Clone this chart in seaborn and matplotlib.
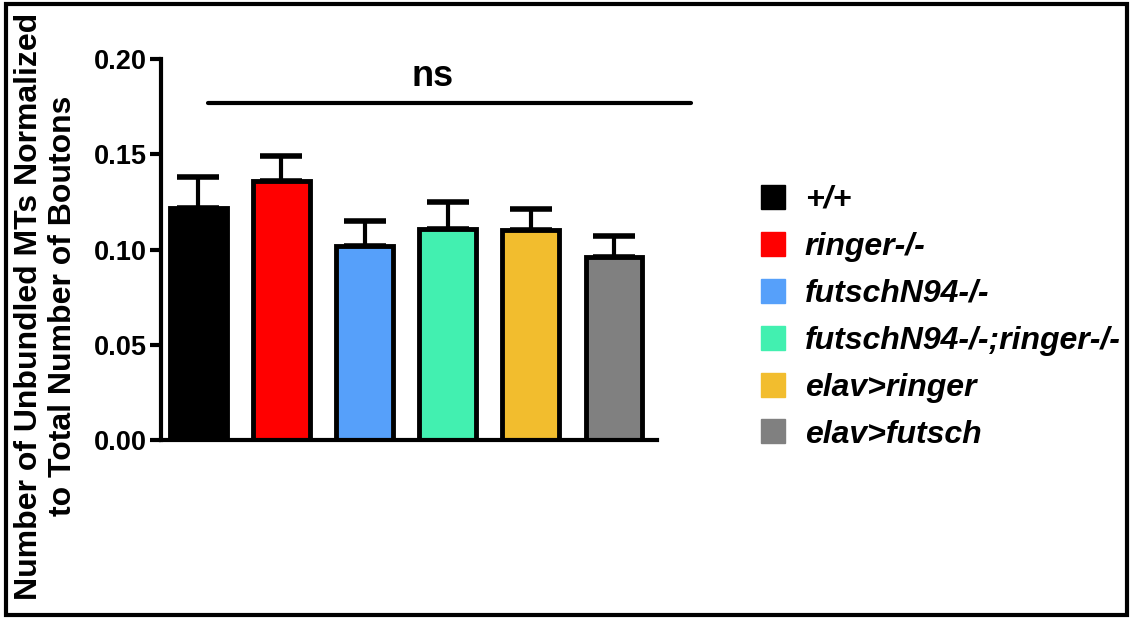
import matplotlib
matplotlib.use("Agg")
import matplotlib.pyplot as plt
import seaborn as sns
import pandas as pd
from matplotlib.lines import Line2D
from matplotlib.patches import Rectangle

genotypes = ["+/+", "ringer-/-", "futschN94-/-", "futschN94-/-;ringer-/-",
             "elav>ringer", "elav>futsch"]
means = [0.122, 0.136, 0.102, 0.111, 0.110, 0.096]
sems = [0.016, 0.013, 0.013, 0.014, 0.011, 0.011]
colors = ["#000000", "#FF0000", "#56A0FA", "#42F0B0", "#F2BD2E", "#808080"]
yticks = [0.00, 0.05, 0.10, 0.15, 0.20]
ylabel = "Number of Unbundled MTs Normalized\nto Total Number of Boutons"
sig_label = "ns"

sns.set_theme(style="ticks")
plt.rcParams['font.family'] = ['Liberation Sans', 'DejaVu Sans']
plt.rcParams['text.color'] = 'black'
plt.rcParams['axes.labelcolor'] = 'black'
plt.rcParams['xtick.color'] = 'black'
plt.rcParams['ytick.color'] = 'black'
plt.rcParams['axes.edgecolor'] = 'black'

df = pd.DataFrame({"genotype": genotypes, "mean": means})

fig = plt.figure(figsize=(11.33, 6.18), dpi=100)
ax = fig.add_axes([161/1133, 1-440/618, (657-161)/1133, (440-59)/618])

sns.barplot(data=df, x="genotype", y="mean", hue="genotype", palette=colors,
            legend=False, edgecolor="black", linewidth=3.5, width=0.68,
            saturation=1, ax=ax, errorbar=None, order=genotypes,
            hue_order=genotypes)

ax.errorbar(range(len(genotypes)), means, yerr=[[0]*len(sems), sems],
            fmt="none", ecolor="black", elinewidth=3, capsize=15, capthick=4,
            zorder=1)
for p in ax.patches:
    p.set_zorder(2)

ax.set_xlim(-0.45, 5.52)
ax.set_ylim(0, 0.20)
ax.set_yticks(yticks)
ax.set_yticklabels([f"{t:.2f}" for t in yticks], fontsize=19.5, fontweight="bold")
ax.set_xticks([])
ax.set_xlabel("")
ax.set_ylabel("")
for s in ["top", "right"]:
    ax.spines[s].set_visible(False)
for s in ["left", "bottom"]:
    ax.spines[s].set_linewidth(3)
ax.tick_params(axis="y", width=3, length=8, pad=2, color="black")

# significance line
ax.plot([0.12, 5.93], [0.177, 0.177], color="black", lw=3, clip_on=False)
ax.text(2.82, 0.1815, sig_label, ha="center", va="bottom", fontsize=26,
        fontweight="bold")

fig.text(46/1133, 1-306/618, ylabel, rotation=90, ha="center", va="center",
         fontsize=23, fontweight="bold", linespacing=1.15)

handles = [Line2D([0], [0], marker="s", linestyle="none", markersize=17,
                  markerfacecolor=c, markeredgecolor=c) for c in colors]
leg = fig.legend(handles, genotypes, loc="upper left",
                 bbox_to_anchor=(757/1133, 1-185/618), frameon=False,
                 borderpad=0, borderaxespad=0,
                 prop={"size": 23, "weight": "bold", "style": "italic"},
                 labelspacing=0.53, handletextpad=0.5, handlelength=1.0)

fig.add_artist(Rectangle((6/1133, 3/618), 1-12/1133, 1-7/618,
                         transform=fig.transFigure, fill=False,
                         edgecolor="black", linewidth=3))

fig.savefig("out.png", dpi=100)
